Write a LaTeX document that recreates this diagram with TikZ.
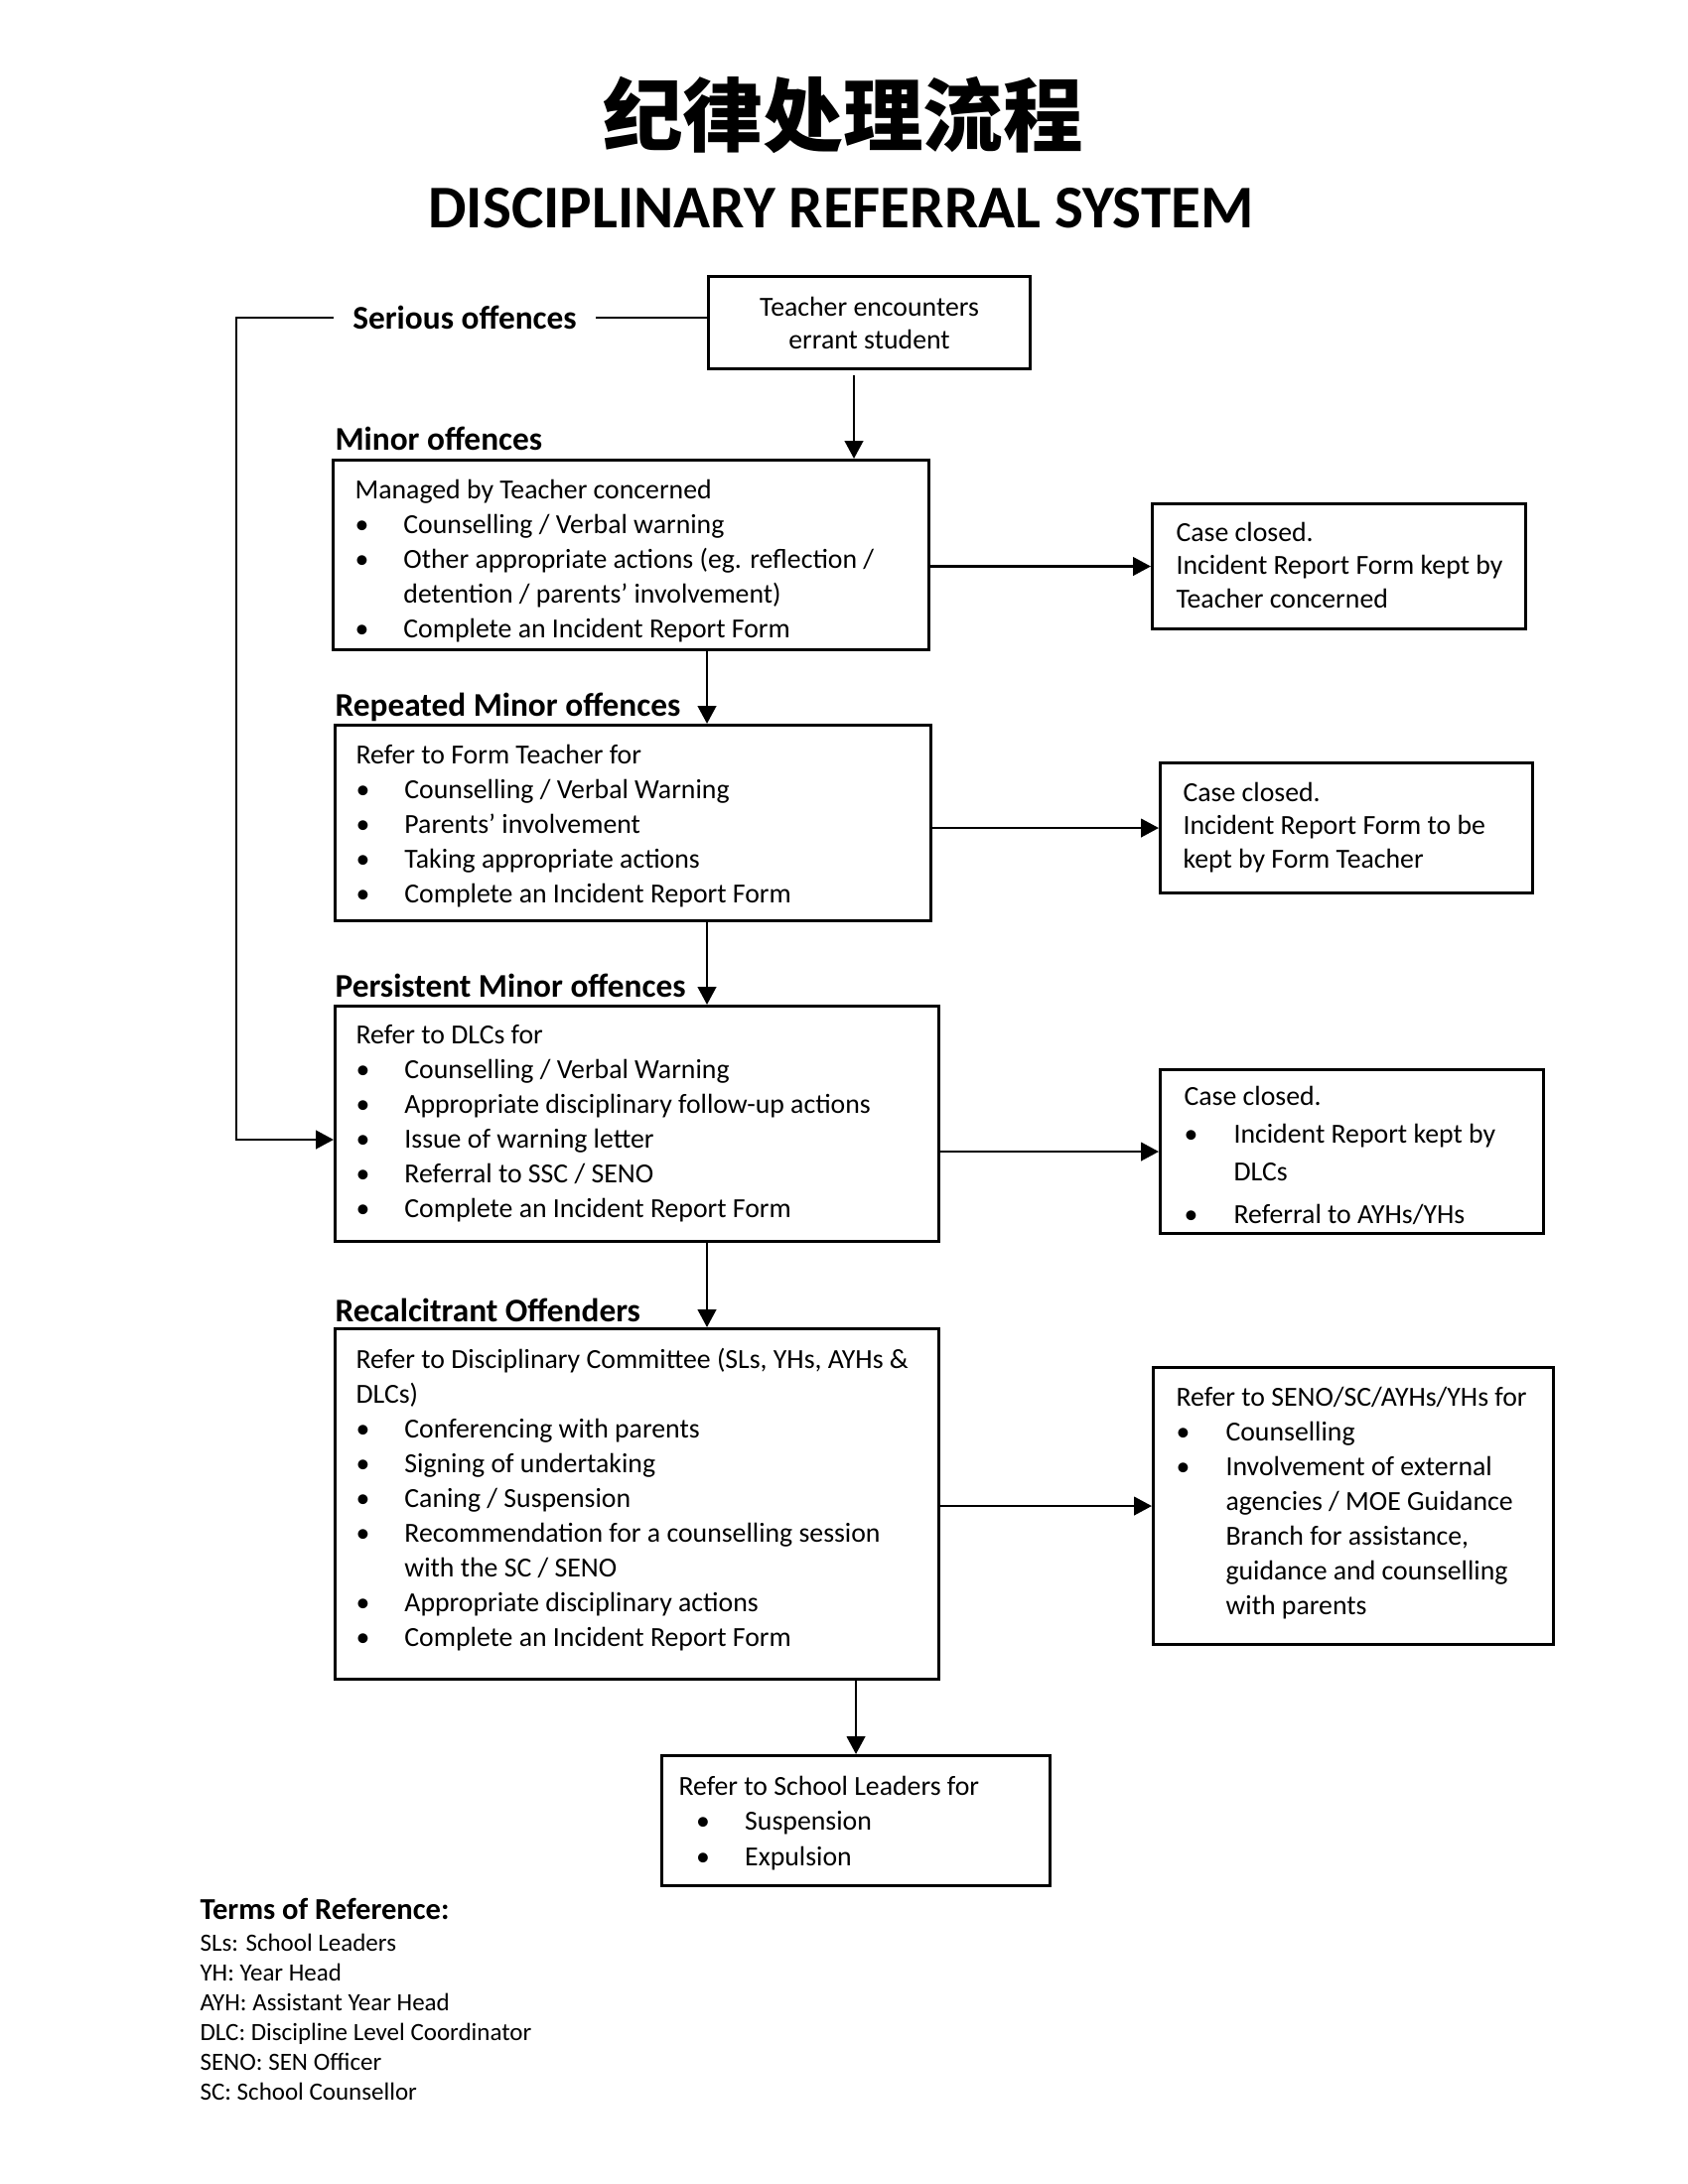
\documentclass[tikz,border=0pt]{standalone}
\usepackage{fontspec}
\setmainfont{Carlito}
\newfontfamily\cjkfont{Noto Sans CJK SC}
\usetikzlibrary{arrows.meta}
\newcommand{\pxlen}[1]{\dimexpr0.36pt*#1\relax}
\newcommand{\bul}{\textbullet}
\newcommand{\bitem}[2][17.6pt]{\par\hangindent=#1\hangafter=1\noindent\makebox[#1][l]{\bul}#2}
\newcommand{\sitem}[1]{\par\hangindent=24pt\hangafter=1\noindent\makebox[24pt][l]{\hspace{6.3pt}\bul}#1}
\begin{document}
\begin{tikzpicture}[x=0.36pt,y=-0.36pt,
 box/.style={draw, line width=1.1pt, inner sep=0pt, anchor=north west},
 conn/.style={line width=0.95pt},
 arr/.style={conn,-{Triangle[length=6.4pt,width=6.6pt]}},
 lbl/.style={inner sep=0pt, anchor=base west, font=\fontsize{12}{14.4}\selectfont\bfseries},
 txt/.style={inner sep=0pt, anchor=base west, font=\fontsize{10}{12.6}\selectfont}]
\fill[white] (0,0) rectangle (1700,2200);
\useasboundingbox (0,0) rectangle (1700,2200);

% titles
\node (cn) at (849,116) {\cjkfont\bfseries\fontsize{29}{34}\selectfont 纪律处理流程};
\node (en) at (847,210) {\fontsize{22}{26}\selectfont\bfseries DISCIPLINARY REFERRAL SYSTEM};

% boxes
\node[box, minimum width=324*0.36pt, minimum height=93*0.36pt, align=center,
      font=\fontsize{10}{11.9}\selectfont] (teacher) at (712,277) {Teacher encounters\\errant student};
\node[box, minimum width=600*0.36pt, minimum height=191*0.36pt] (minor) at (334,462) {};
\node[box, minimum width=376*0.36pt, minimum height=126*0.36pt] (case1) at (1159,506) {};
\node[box, minimum width=600*0.36pt, minimum height=197*0.36pt] (rep) at (336,729) {};
\node[box, minimum width=375*0.36pt, minimum height=131*0.36pt] (case2) at (1167,767) {};
\node[box, minimum width=608*0.36pt, minimum height=237*0.36pt] (pers) at (336,1012) {};
\node[box, minimum width=386*0.36pt, minimum height=165*0.36pt] (case3) at (1167,1076) {};
\node[box, minimum width=608*0.36pt, minimum height=353*0.36pt] (rec) at (336,1337) {};
\node[box, minimum width=403*0.36pt, minimum height=279*0.36pt] (seno) at (1160,1376) {};
\node[box, minimum width=391*0.36pt, minimum height=131*0.36pt] (school) at (665,1767) {};

% labels
\node[inner xsep=6.8pt, inner ysep=0pt, font=\fontsize{12}{14.4}\selectfont\bfseries] (serious) at (468,320) {Serious offences};
\node[lbl] (lminor) at (337,453) {Minor offences};
\node[lbl] (lrep) at (337,721) {Repeated Minor offences};
\node[lbl] (lpers) at (337,1004) {Persistent Minor offences};
\node[lbl] (lrec) at (337,1331) {Recalcitrant Offenders};

% box texts
\node[txt] (tminor) at (357,502) {\begin{minipage}[t]{\pxlen{570}}
Managed by Teacher concerned
\bitem{Counselling / Verbal warning}
\bitem{Other appropriate actions (eg. reflection /\\detention / parents’ involvement)}
\bitem{Complete an Incident Report Form}
\end{minipage}};

\node[txt, font=\fontsize{10}{12.2}\selectfont] (tcase1) at (1184,545) {\begin{minipage}[t]{\pxlen{360}}
Case closed.\\
Incident Report Form kept by\\
Teacher concerned
\end{minipage}};

\node[txt] (trep) at (358,769) {\begin{minipage}[t]{\pxlen{570}}
Refer to Form Teacher for
\bitem{Counselling / Verbal Warning}
\bitem{Parents’ involvement}
\bitem{Taking appropriate actions}
\bitem{Complete an Incident Report Form}
\end{minipage}};

\node[txt, font=\fontsize{10}{12.2}\selectfont] (tcase2) at (1191,807) {\begin{minipage}[t]{\pxlen{360}}
Case closed.\\
Incident Report Form to be\\
kept by Form Teacher
\end{minipage}};

\node[txt] (tpers) at (358,1051) {\begin{minipage}[t]{\pxlen{575}}
Refer to DLCs for
\bitem{Counselling / Verbal Warning}
\bitem{Appropriate disciplinary follow-up actions}
\bitem{Issue of warning letter}
\bitem{Referral to SSC / SENO}
\bitem{Complete an Incident Report Form}
\end{minipage}};

\node[txt, font=\fontsize{10}{13.7}\selectfont] (tcase3) at (1192,1113) {\begin{minipage}[t]{\pxlen{370}}
Case closed.
\bitem[18pt]{Incident Report kept by\\DLCs}
\par\vspace{1.8pt}
\bitem[18pt]{Referral to AYHs/YHs}
\end{minipage}};

\node[txt] (trec) at (358,1378) {\begin{minipage}[t]{\pxlen{580}}
Refer to Disciplinary Committee (SLs, YHs, AYHs \&\\
DLCs)
\bitem{Conferencing with parents}
\bitem{Signing of undertaking}
\bitem{Caning / Suspension}
\bitem{Recommendation for a counselling session\\with the SC / SENO}
\bitem{Appropriate disciplinary actions}
\bitem{Complete an Incident Report Form}
\end{minipage}};

\node[txt] (tseno) at (1184,1416) {\begin{minipage}[t]{\pxlen{375}}
Refer to SENO/SC/AYHs/YHs for
\bitem[18pt]{Counselling}
\bitem[18pt]{Involvement of external\\agencies / MOE Guidance\\Branch for assistance,\\guidance and counselling\\with parents}
\end{minipage}};

\node[txt, font=\fontsize{10}{12.9}\selectfont] (tschool) at (683,1808) {\begin{minipage}[t]{\pxlen{365}}
Refer to School Leaders for
\sitem{Suspension}
\sitem{Expulsion}
\end{minipage}};

% terms of reference
\node[inner sep=0pt, anchor=base west, font=\fontsize{11}{13}\selectfont\bfseries] (termsh) at (201,1933) {Terms of Reference:};
\node[inner sep=0pt, anchor=base west, font=\fontsize{9}{10.8}\selectfont] (terms) at (201,1965) {\begin{minipage}[t]{\pxlen{500}}
SLs: School Leaders\\
YH: Year Head\\
AYH: Assistant Year Head\\
DLC: Discipline Level Coordinator\\
SENO: SEN Officer\\
SC: School Counsellor
\end{minipage}};

% connectors
\coordinate (colA) at (860,0);
\coordinate (colB) at (712,0);
\coordinate (bend) at (238,1148);
\draw[conn] (serious.east -| teacher.west) -- (serious.east);
\draw[arr] (serious.west) -| (bend) -- (bend -| pers.west);
\draw[arr] ([yshift=-1.8pt]teacher.south -| colA) -- (minor.north -| colA);
\draw[arr] (minor.east |- case1.west) -- (case1.west);
\draw[arr] (minor.south -| colB) -- (rep.north -| colB);
\draw[arr] (rep.east |- case2.west) -- (case2.west);
\draw[arr] (rep.south -| colB) -- (pers.north -| colB);
\draw[arr] (pers.east |- case3.west) -- (case3.west);
\draw[arr] (pers.south -| colB) -- (rec.north -| colB);
\draw[arr] (rec.east |- seno.west) -- (seno.west);
\draw[arr] (rec.south -| school.north) -- (school.north);
\end{tikzpicture}
\end{document}
